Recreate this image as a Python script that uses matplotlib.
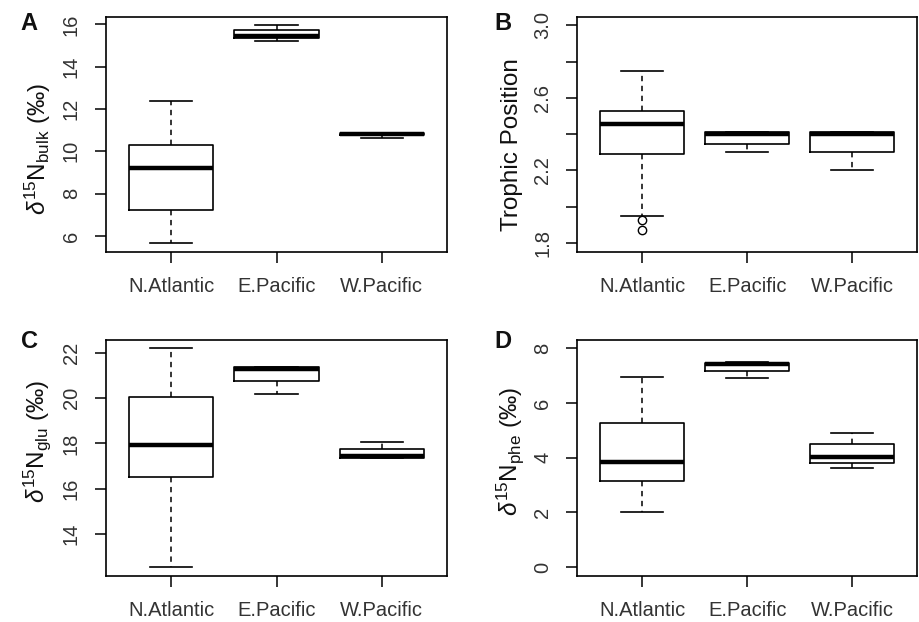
import matplotlib
matplotlib.use("Agg")
import matplotlib.pyplot as plt

plt.rcParams['font.family'] = ['Liberation Sans', 'DejaVu Sans']
plt.rcParams['mathtext.fontset'] = 'custom'
plt.rcParams['mathtext.rm'] = 'Liberation Sans'
plt.rcParams['mathtext.it'] = 'Liberation Sans:italic'

regions = ["N.Atlantic", "E.Pacific", "W.Pacific"]

# Panel A: d15N bulk
A_whislo = [5.67, 15.23, 10.64]
A_q1     = [7.22, 15.36, 10.79]
A_med    = [9.22, 15.43, 10.83]
A_q3     = [10.28, 15.73, 10.88]
A_whishi = [12.37, 15.95, 10.88]
A_fliers = [[], [], []]

# Panel B: trophic position
B_whislo = [1.95, 2.30, 2.20]
B_q1     = [2.293, 2.346, 2.30]
B_med    = [2.459, 2.402, 2.402]
B_q3     = [2.527, 2.41, 2.41]
B_whishi = [2.75, 2.41, 2.41]
B_fliers = [[1.929, 1.873], [], []]

# Panel C: d15N glu
C_whislo = [12.55, 20.18, 17.37]
C_q1     = [16.53, 20.74, 17.37]
C_med    = [17.91, 21.30, 17.43]
C_q3     = [20.04, 21.38, 17.77]
C_whishi = [22.19, 21.38, 18.07]
C_fliers = [[], [], []]

# Panel D: d15N phe
D_whislo = [2.00, 6.91, 3.63]
D_q1     = [3.14, 7.19, 3.79]
D_med    = [3.83, 7.43, 4.03]
D_q3     = [5.28, 7.47, 4.49]
D_whishi = [6.97, 7.50, 4.89]
D_fliers = [[], [], []]

A_ticks = [6, 8, 10, 12, 14, 16]
A_ticklabels = ["6", "8", "10", "12", "14", "16"]
B_ticks = [1.8, 2.0, 2.2, 2.4, 2.6, 2.8, 3.0]
B_ticklabels = ["1.8", "", "2.2", "", "2.6", "", "3.0"]
C_ticks = [14, 16, 18, 20, 22]
C_ticklabels = ["14", "16", "18", "20", "22"]
D_ticks = [0, 2, 4, 6, 8]
D_ticklabels = ["0", "2", "4", "6", "8"]

labels = ["A", "B", "C", "D"]
ylabels = [r"$\delta^{15}$N$_{\rm bulk}$ (‰)",
           "Trophic Position",
           r"$\delta^{15}$N$_{\rm glu}$ (‰)",
           r"$\delta^{15}$N$_{\rm phe}$ (‰)"]

W, H = 919, 622
fig = plt.figure(figsize=(W / 100, H / 100), dpi=100)

def px_axes(l, t, r, b):
    return fig.add_axes([l / W, (H - b) / H, (r - l) / W, (b - t) / H])

axes = [px_axes(106, 16.7, 447, 251.7),
        px_axes(577.3, 16.7, 917, 251.7),
        px_axes(106, 339.7, 447, 575.7),
        px_axes(577.3, 339.7, 917, 575.7)]

panels = [
    (A_whislo, A_q1, A_med, A_q3, A_whishi, A_fliers, A_ticks, A_ticklabels, None),
    (B_whislo, B_q1, B_med, B_q3, B_whishi, B_fliers, B_ticks, B_ticklabels, (1.8, 3.0)),
    (C_whislo, C_q1, C_med, C_q3, C_whishi, C_fliers, C_ticks, C_ticklabels, None),
    (D_whislo, D_q1, D_med, D_q3, D_whishi, D_fliers, D_ticks, D_ticklabels, (0, 8)),
]

ylab_y = [0.437, 0.458, 0.569, 0.528]
ylab_x = [-0.155, -0.16, -0.155, -0.15]
letter_pos = [(29, 23), (503, 23), (29, 342), (503, 342)]
tick_color = '#333333'

for i, (ax, p) in enumerate(zip(axes, panels)):
    wlo, q1, med, q3, whi, fl, ticks, tlabels, ylim = p
    stats = []
    for k in range(3):
        stats.append(dict(whislo=wlo[k], q1=q1[k], med=med[k], q3=q3[k],
                          whishi=whi[k], fliers=fl[k], label=regions[k]))
    ax.bxp(stats, positions=[1, 2, 3], widths=0.8, showfliers=True,
           boxprops=dict(color='black', linewidth=1.2),
           medianprops=dict(color='black', linewidth=3.2, solid_capstyle='butt'),
           whiskerprops=dict(color='black', linewidth=1.1, linestyle=(0, (3.5, 3))),
           capprops=dict(color='black', linewidth=1.2),
           capwidths=0.4,
           flierprops=dict(marker='o', markerfacecolor='none', markeredgecolor='black',
                           markersize=6, markeredgewidth=1.0))
    ax.set_xlim(0.38, 3.62)
    if ylim is None:
        lo = min(wlo + [v for f in fl for v in f])
        hi = max(whi + [v for f in fl for v in f])
    else:
        lo, hi = ylim
    d = (hi - lo) * 0.04
    ax.set_ylim(lo - d, hi + d)
    ax.set_yticks(ticks)
    ax.set_yticklabels(tlabels, rotation=90, va='center', color=tick_color, fontsize=14.5)
    ax.set_xticks([1, 2, 3])
    ax.set_xticklabels(regions, color=tick_color, fontsize=14.5)
    ax.tick_params(axis='both', direction='out', length=8, width=1.1, pad=10, color='black')
    for s in ax.spines.values():
        s.set_linewidth(1.2)
    ax.set_ylabel(ylabels[i], fontsize=17.5, color='#111111')
    ax.yaxis.set_label_coords(ylab_x[i], ylab_y[i])
    lx, ly = letter_pos[i]
    fig.text(lx / W, (H - ly) / H, labels[i], fontsize=17, fontweight='bold',
             ha='center', va='center', color='#111111')

fig.savefig("out.png", dpi=100)
